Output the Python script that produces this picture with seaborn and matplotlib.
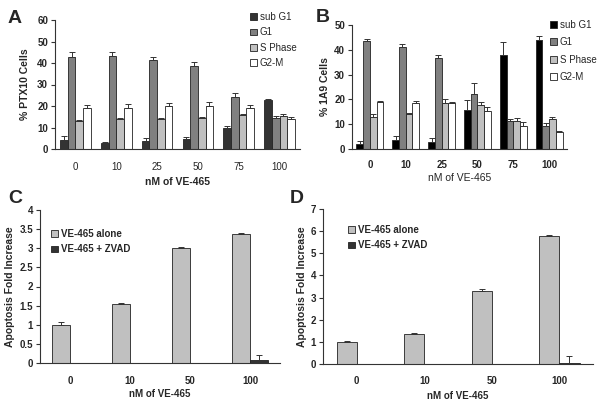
import numpy as np
import pandas as pd
import matplotlib
matplotlib.use("Agg")
import matplotlib.pyplot as plt
import seaborn as sns

# panel A / B data: cell-cycle phases vs dose
doses_ab = ["0", "10", "25", "50", "75", "100"]
phases = ["sub G1", "G1", "S Phase", "G2-M"]

ptx10_subg1 = [4.1, 2.8, 3.9, 4.7, 10.0, 22.7]
ptx10_g1 = [43.0, 43.3, 41.4, 38.7, 24.3, 14.4]
ptx10_s = [13.0, 14.0, 14.1, 14.2, 15.9, 15.2]
ptx10_g2m = [19.1, 19.1, 19.9, 20.2, 19.1, 14.1]
ptx10_subg1_err = [1.8, 0.4, 1.1, 0.9, 0.8, 0.6]
ptx10_g1_err = [2.0, 1.6, 1.6, 1.8, 1.8, 1.0]
ptx10_s_err = [0.4, 0.5, 0.4, 0.7, 0.6, 1.0]
ptx10_g2m_err = [1.4, 1.8, 1.6, 1.8, 1.3, 1.0]

a1a9_subg1 = [2.2, 3.5, 3.0, 15.8, 38.0, 43.8]
a1a9_g1 = [43.5, 41.2, 36.6, 22.0, 11.4, 9.4]
a1a9_s = [13.0, 14.2, 18.4, 17.9, 11.4, 12.2]
a1a9_g2m = [18.8, 18.6, 18.7, 15.2, 9.1, 6.7]
a1a9_subg1_err = [0.9, 1.8, 1.3, 4.1, 5.0, 1.6]
a1a9_g1_err = [0.7, 1.0, 1.2, 4.5, 0.5, 0.9]
a1a9_s_err = [1.2, 0.2, 1.6, 1.0, 1.3, 0.6]
a1a9_g2m_err = [0.5, 0.9, 0.3, 1.6, 1.8, 0.6]

# panel C / D data: apoptosis fold increase
doses_cd = ["0", "10", "50", "100"]
treat = ["VE-465 alone", "VE-465 + ZVAD"]
c_alone = [1.0, 1.53, 3.0, 3.38]
c_zvad = [0.0, 0.0, 0.0, 0.08]
c_alone_err = [0.08, 0.04, 0.03, 0.02]
c_zvad_err = [0.0, 0.0, 0.0, 0.14]
d_alone = [1.0, 1.35, 3.3, 5.77]
d_zvad = [0.0, 0.0, 0.0, 0.04]
d_alone_err = [0.06, 0.04, 0.07, 0.04]
d_zvad_err = [0.0, 0.0, 0.0, 0.3]

sns.set_style("white")
plt.rcParams["font.family"] = ["Liberation Sans", "DejaVu Sans"]

W, H = 600, 420
fig = plt.figure(figsize=(6, 4.2), dpi=100)


def px_axes(x0, y_top, x1, y_bot):
    return fig.add_axes([x0 / W, 1 - y_bot / H, (x1 - x0) / W, (y_bot - y_top) / H])


def draw_panel(ax, cats, groups, vals, errs, colors, width):
    rows = []
    for g, v in zip(groups, vals):
        for c, y in zip(cats, v):
            rows.append({"dose": c, "group": g, "value": y})
    df = pd.DataFrame(rows)
    sns.barplot(data=df, x="dose", y="value", hue="group", hue_order=groups,
                order=cats, palette=colors, width=width, ax=ax,
                edgecolor="#222222", linewidth=0.6, errorbar=None, legend=False)
    for cont, err in zip(ax.containers, errs):
        xs = [p.get_x() + p.get_width() / 2 for p in cont.patches]
        ys = [p.get_height() for p in cont.patches]
        e = np.array(err)
        mask = e > 0
        ax.errorbar(np.array(xs)[mask], np.array(ys)[mask],
                    yerr=[np.zeros(mask.sum()), e[mask]], fmt="none",
                    ecolor="#333333", elinewidth=0.7, capsize=2, capthick=0.7)
    n = len(cats)
    ax.set_xlim(-0.5, n - 0.5)
    ax.set_xticks(range(n))
    ax.set_xticks(np.arange(-0.5, n, 1.0), minor=True)
    ax.tick_params(axis="x", which="major", length=0, pad=9)
    ax.tick_params(axis="x", which="minor", length=3, width=0.8, color="#333333",
                   direction="out")
    ax.tick_params(axis="y", length=3, width=0.8, color="#333333",
                   direction="out", left=True, pad=2)
    for s in ["top", "right"]:
        ax.spines[s].set_visible(False)
    for s in ["left", "bottom"]:
        ax.spines[s].set_color("#333333")
        ax.spines[s].set_linewidth(0.8)


def add_legend(ax, groups, colors, x, y, fs, bold, spacing=0.55):
    handles = [plt.Rectangle((0, 0), 1, 1, facecolor=c, edgecolor="#222222",
                             linewidth=0.6) for c in colors]
    leg = ax.legend(handles, groups, loc="upper left",
                    bbox_to_anchor=(x / W, 1 - y / H), bbox_transform=fig.transFigure,
                    frameon=False, handlelength=0.7, handleheight=0.7,
                    handletextpad=0.3, labelspacing=spacing, borderpad=0, borderaxespad=0,
                    prop={"size": fs, "weight": "bold" if bold else "normal"})
    return leg


# Panel A
axA = px_axes(55, 20, 300, 149)
colA = ["#333333", "#808080", "#c0c0c0", "#ffffff"]
draw_panel(axA, doses_ab, phases, [ptx10_subg1, ptx10_g1, ptx10_s, ptx10_g2m],
           [ptx10_subg1_err, ptx10_g1_err, ptx10_s_err, ptx10_g2m_err], colA, 0.75)
axA.set_ylim(0, 60)
axA.set_yticks(range(0, 61, 10))
axA.set_xlabel("nM of VE-465", fontsize=7.5, fontweight="bold")
axA.set_ylabel("% PTX10 Cells", fontsize=7.5, fontweight="bold")
axA.xaxis.set_label_coords(0.5, -0.22)
axA.yaxis.set_label_coords(-0.10, 0.5)
for t in axA.get_yticklabels():
    t.set_fontweight("bold")
axA.tick_params(labelsize=7)
add_legend(axA, phases, colA, 250, 12, 7, False)

# Panel B
axB = px_axes(352, 25, 567, 149)
colB = ["#000000", "#808080", "#c0c0c0", "#ffffff"]
draw_panel(axB, doses_ab, phases, [a1a9_subg1, a1a9_g1, a1a9_s, a1a9_g2m],
           [a1a9_subg1_err, a1a9_g1_err, a1a9_s_err, a1a9_g2m_err], colB, 0.75)
axB.set_ylim(0, 50)
axB.set_yticks(range(0, 51, 10))
axB.set_xlabel("nM of VE-465", fontsize=7.5)
axB.set_ylabel("% 1A9 Cells", fontsize=7.5, fontweight="bold")
axB.xaxis.set_label_coords(0.5, -0.19)
axB.yaxis.set_label_coords(-0.10, 0.5)
for t in axB.get_yticklabels() + axB.get_xticklabels():
    t.set_fontweight("bold")
axB.tick_params(labelsize=7)
axB.tick_params(axis="x", which="major", pad=8)
add_legend(axB, phases, colB, 550, 20, 7, False, spacing=0.75)

# Panel C
axC = px_axes(40, 210, 280, 363)
colC = ["#c0c0c0", "#333333"]
draw_panel(axC, doses_cd, treat, [c_alone, c_zvad], [c_alone_err, c_zvad_err],
           colC, 0.6)
axC.set_ylim(0, 4)
axC.set_yticks(np.arange(0, 4.01, 0.5))
axC.set_yticklabels(["0", "0.5", "1", "1.5", "2", "2.5", "3", "3.5", "4"])
axC.set_xlabel("nM of VE-465", fontsize=7, fontweight="bold")
axC.set_ylabel("Apoptosis Fold Increase", fontsize=7.5, fontweight="bold")
axC.xaxis.set_label_coords(0.5, -0.17)
axC.yaxis.set_label_coords(-0.104, 0.5)
for t in axC.get_yticklabels() + axC.get_xticklabels():
    t.set_fontweight("bold")
axC.tick_params(labelsize=7)
add_legend(axC, treat, colC, 51, 229, 7, True)

# Panel D
axD = px_axes(323, 209, 593, 364)
draw_panel(axD, doses_cd, treat, [d_alone, d_zvad], [d_alone_err, d_zvad_err],
           colC, 0.6)
axD.set_ylim(0, 7)
axD.set_yticks(range(0, 8))
axD.set_xlabel("nM of VE-465", fontsize=7, fontweight="bold")
axD.set_ylabel("Apoptosis Fold Increase", fontsize=7.5, fontweight="bold")
axD.xaxis.set_label_coords(0.5, -0.175)
axD.yaxis.set_label_coords(-0.06, 0.5)
for t in axD.get_yticklabels() + axD.get_xticklabels():
    t.set_fontweight("bold")
axD.tick_params(labelsize=7)
add_legend(axD, treat, colC, 348, 225, 7, True)

# panel letters
for letter, x, y in [("A", 8, 23), ("B", 316, 22), ("C", 8, 203), ("D", 290, 203)]:
    fig.text(x / W, 1 - y / H, letter, fontsize=14, fontweight="bold", ha="left",
             va="baseline")

fig.savefig("out.png", dpi=100)
